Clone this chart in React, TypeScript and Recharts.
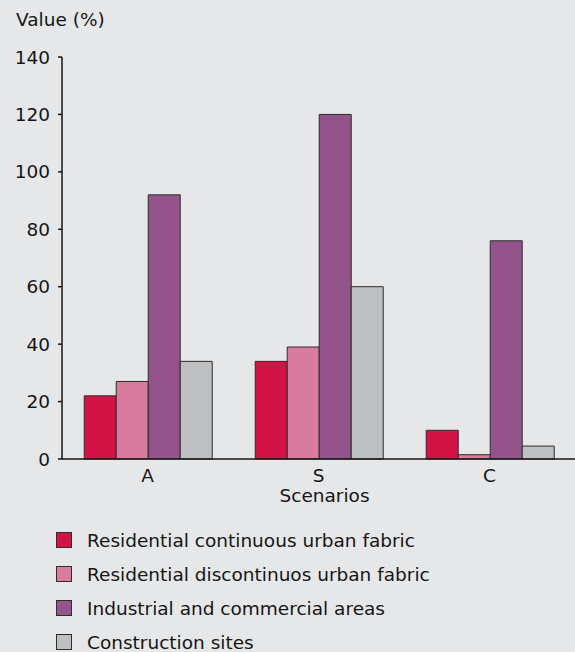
import React from "react";
import { BarChart, Bar, XAxis, YAxis, Legend } from "recharts";

const scenarios = ["A", "S", "C"];
const continuousFabric = [22, 34, 10];
const discontinuousFabric = [27, 39, 1.5];
const industrialCommercial = [92, 120, 76];
const constructionSites = [34, 60, 4.5];
const valueTicks = [0, 20, 40, 60, 80, 100, 120, 140];

const seriesNames = [
  "Residential continuous urban fabric",
  "Residential discontinuos urban fabric",
  "Industrial and commercial areas",
  "Construction sites",
];

const data = scenarios.map((s, i) => ({
  scenario: s,
  continuous: continuousFabric[i],
  discontinuous: discontinuousFabric[i],
  industrial: industrialCommercial[i],
  construction: constructionSites[i],
}));

const FONT = "'DejaVu Sans', Verdana, sans-serif";
const FS = 18.5;
const INK = "#161616";
const BG = "#e6e7e9";
const EDGE = "#2d2d2d";

const series = [
  { key: "continuous", name: seriesNames[0], color: "#d31245" },
  { key: "discontinuous", name: seriesNames[1], color: "#d87b9c" },
  { key: "industrial", name: seriesNames[2], color: "#93548c" },
  { key: "construction", name: seriesNames[3], color: "#bebfc1" },
];

// Legend rows keep the series' declaration order
const LegendList = () => (
  <div style={{ fontFamily: FONT, fontSize: FS, color: INK }}>
    {series.map((s) => (
      <div
        key={s.key}
        style={{ display: "flex", alignItems: "center", height: 34, whiteSpace: "nowrap" }}
      >
        <span
          style={{
            display: "inline-block",
            width: 14,
            height: 14,
            background: s.color,
            border: `1px solid ${EDGE}`,
            marginRight: 15,
          }}
        />
        <span>{s.name}</span>
      </div>
    ))}
  </div>
);

export default function App() {
  return (
    <div
      style={{
        position: "absolute",
        left: 0,
        top: 0,
        width: 575,
        height: 652,
        background: BG,
        overflow: "hidden",
      }}
    >
      <div
        style={{
          position: "absolute",
          left: 16,
          top: 9,
          fontFamily: FONT,
          fontSize: FS,
          lineHeight: "22px",
          color: INK,
        }}
      >
        Value (%)
      </div>
      <BarChart
        width={575}
        height={652}
        data={data}
        margin={{ top: 57, right: 0, left: 12, bottom: 145 }}
        barCategoryGap="13%"
        barGap={0}
        style={{ fontFamily: FONT }}
      >
        <XAxis
          xAxisId="bounds"
          type="number"
          domain={[0, 3]}
          allowDataOverflow
          ticks={[0, 1, 2]}
          tick={false}
          axisLine={false}
          tickSize={5}
          tickLine={{ stroke: INK, strokeWidth: 1.5 }}
          height={0}
        />
        <XAxis
          dataKey="scenario"
          tickLine={false}
          tickSize={0}
          tickMargin={10}
          height={48}
          axisLine={{ stroke: INK, strokeWidth: 1.5 }}
          tick={{ fill: INK, fontSize: FS, fontFamily: FONT }}
          label={{
            value: "Scenarios",
            position: "insideBottom",
            offset: 5,
            dx: 6,
            fill: INK,
            fontSize: FS,
            fontFamily: FONT,
          }}
        />
        <YAxis
          width={50}
          domain={[0, 140]}
          ticks={valueTicks}
          interval={0}
          tickSize={4}
          tickMargin={8}
          axisLine={{ stroke: INK, strokeWidth: 1.5 }}
          tickLine={{ stroke: INK, strokeWidth: 1.5 }}
          tick={{ fill: INK, fontSize: FS, fontFamily: FONT }}
        />
        <Legend
          layout="vertical"
          align="center"
          verticalAlign="middle"
          content={<LegendList />}
          wrapperStyle={{ left: 56, top: 523, width: "auto" }}
        />
        {series.map((s) => (
          <Bar
            key={s.key}
            dataKey={s.key}
            name={s.name}
            fill={s.color}
            stroke={EDGE}
            strokeWidth={1}
            isAnimationActive={false}
          />
        ))}
      </BarChart>
    </div>
  );
}
